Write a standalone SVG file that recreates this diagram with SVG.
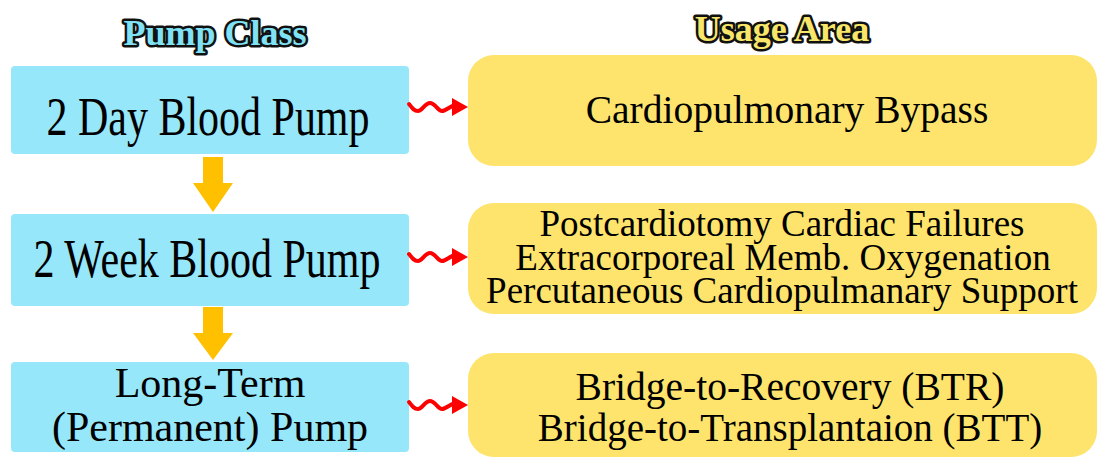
<svg xmlns="http://www.w3.org/2000/svg" width="1100" height="459" viewBox="0 0 1100 459">
<style>
.pump{fill:#97E7FA}
.use{fill:#FEE46C}
.t{font-family:"Liberation Serif","Times New Roman",serif;fill:#000;text-anchor:middle}
.title{font-family:"Liberation Serif","Times New Roman",serif;font-weight:bold;font-size:36px;text-anchor:middle;stroke:#111;stroke-width:5;stroke-linejoin:round;paint-order:stroke fill}
.wave{fill:none;stroke:#FF0000;stroke-width:4;stroke-linecap:round}
.head{fill:#FF0000}
.down{fill:#FFC000}
</style>
<rect width="1100" height="459" fill="#FFFFFF"/>
<g id="titles">
<text class="title" x="215" y="45" style="fill:#80E2F4">Pump Class</text>
<text class="title" x="782" y="41" style="fill:#F8E66A">Usage Area</text>
</g>
<g id="pump1">
<rect class="pump" x="11" y="66" width="398" height="88" rx="4"/>
<text class="t" transform="translate(208,135) scale(1,1.3)" font-size="42">2 Day Blood Pump</text>
</g>
<g id="pump2">
<rect class="pump" x="11" y="214" width="398" height="92" rx="4"/>
<text class="t" transform="translate(207,277) scale(1,1.3)" font-size="42">2 Week Blood Pump</text>
</g>
<g id="pump3">
<rect class="pump" x="11" y="362" width="398" height="90" rx="4"/>
<text class="t" x="210" y="397" font-size="42">Long-Term</text>
<text class="t" x="210" y="441" font-size="42">(Permanent) Pump</text>
</g>
<g id="use1">
<rect class="use" x="468" y="55" width="629" height="111" rx="26"/>
<text class="t" x="787" y="123" font-size="39.5">Cardiopulmonary Bypass</text>
</g>
<g id="use2">
<rect class="use" x="468" y="203" width="629" height="111" rx="26"/>
<text class="t" x="782" y="236" font-size="37">Postcardiotomy Cardiac Failures</text>
<text class="t" x="783" y="270" font-size="37">Extracorporeal Memb. Oxygenation</text>
<text class="t" x="782" y="303" font-size="37">Percutaneous Cardiopulmanary Support</text>
</g>
<g id="use3">
<rect class="use" x="468" y="353" width="629" height="104" rx="26"/>
<text class="t" x="790" y="400" font-size="39.5">Bridge-to-Recovery (BTR)</text>
<text class="t" x="790" y="441" font-size="39">Bridge-to-Transplantaion (BTT)</text>
</g>
<g id="connectors">
<path class="wave" d="M409,104 C412,108 414,111 418,111 S425,103 430,103 S438,111 442,111 S450,106 455,105"/>
<polygon class="head" points="452,98 468,107 452,116"/>
<path class="wave" d="M409,254 C412,258 414,261 418,261 S425,253 430,253 S438,261 442,261 S450,256 455,255"/>
<polygon class="head" points="452,248 468,257 452,266"/>
<path class="wave" d="M409,402 C412,406 414,409 418,409 S425,401 430,401 S438,409 442,409 S450,404 455,403"/>
<polygon class="head" points="452,396 468,405 452,414"/>
<polygon class="down" points="203,157 223,157 223,183 233,183 213,212 193,183 203,183"/>
<polygon class="down" points="203,307 223,307 223,333 233,333 213,360 193,333 203,333"/>
</g>
</svg>
